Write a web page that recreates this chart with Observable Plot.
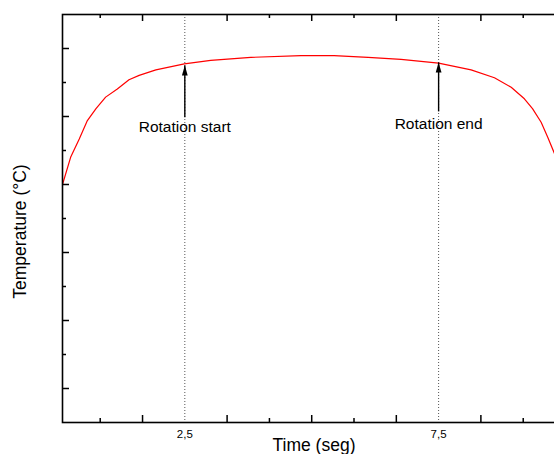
<!DOCTYPE html>
<html>
<head>
<meta charset="utf-8">
<script src="https://cdn.jsdelivr.net/npm/d3@7"></script>
<script src="https://cdn.jsdelivr.net/npm/@observablehq/plot@0.6"></script>
<style>
  html, body { margin: 0; padding: 0; background: white; }
  #wrap { width: 554px; height: 454px; overflow: hidden; }
</style>
</head>
<body>
<div id="wrap"></div>
<script>
// Temperature curve (arbitrary units; y axis has no labels)
const time = [0.09, 0.25, 0.42, 0.58, 0.75, 0.94, 1.17, 1.40, 1.60, 1.93, 2.49, 3.01, 3.80, 4.79, 5.44, 6.11, 6.76, 7.50, 8.14, 8.60, 8.93, 9.19, 9.35, 9.52, 9.65, 9.78, 9.90];
const temperature = [7.00, 7.80, 8.34, 8.88, 9.23, 9.57, 9.81, 10.08, 10.21, 10.37, 10.55, 10.65, 10.74, 10.79, 10.79, 10.74, 10.68, 10.57, 10.37, 10.14, 9.86, 9.52, 9.23, 8.83, 8.39, 7.92, 7.45];

// Ticks
const xMajorTicks = [1.667, 3.333, 5, 6.667, 8.333];
const xMinorTicks = [0.833, 4.167, 5.833, 9.167];
const xLabelTicks = [2.5, 7.5];
const yMajorTicks = [1, 3, 5, 7, 9, 11];
const yMinorTicks = [2, 4, 6, 8, 10];

// Annotations
const markerTimes = [2.5, 7.5];
const annotationLabels = ["Rotation start", "Rotation end"];
const annotationX = [2.5, 7.5];
const annotationY = [8.68, 8.79];
const arrowX = [2.5, 7.5];
const arrowFrom = [8.98, 9.15];
const arrowTo = [10.5, 10.59];

const curve = time.map((t, i) => ({t, v: temperature[i]}));
const notes = annotationLabels.map((label, i) => ({label, x: annotationX[i], y: annotationY[i]}));
const arrows = arrowX.map((x, i) => ({x, y1: arrowFrom[i], y2: arrowTo[i]}));

const arrowHead = {
  draw(ctx) {
    ctx.moveTo(0, 0);
    ctx.lineTo(2.9, 10);
    ctx.lineTo(-2.9, 10);
    ctx.closePath();
  }
};

const font = "'Liberation Sans', Arial, Helvetica, sans-serif";
const frameH = 454 - 14 - 32;

const chart = Plot.plot({
  width: 565,
  height: 454,
  marginLeft: 62,
  marginRight: 0,
  marginTop: 14,
  marginBottom: 32,
  style: {fontFamily: font, background: "white", maxWidth: "none", color: "black"},
  x: {domain: [0.09, 10]},
  y: {domain: [0, 12]},
  marks: [
    Plot.ruleX(markerTimes, {stroke: "#555", strokeWidth: 1, strokeDasharray: "1,2"}),
    Plot.line(curve, {x: "t", y: "v", stroke: "#ff0000", strokeWidth: 1.2, clip: "frame"}),
    Plot.link(arrows, {x1: "x", x2: "x", y1: "y1", y2: "y2", stroke: "black", strokeWidth: 1.4}),
    Plot.dot(arrows, {x: "x", y: "y2", symbol: arrowHead, fill: "black", stroke: "none"}),
    Plot.text(notes, {x: "x", y: "y", text: "label", fontSize: 15.5, fill: "black", textAnchor: "middle", lineAnchor: "middle"}),
    // ticks pointing inward
    Plot.tickX(xMajorTicks, {x: d => d, insetTop: frameH - 7, stroke: "black", strokeWidth: 1.5}),
    Plot.tickX(xMinorTicks, {x: d => d, insetTop: frameH - 4, stroke: "black", strokeWidth: 1.5}),
    Plot.tickX(xMajorTicks, {x: d => d, insetBottom: frameH - 7, stroke: "black", strokeWidth: 1.5}),
    Plot.tickX(xMinorTicks, {x: d => d, insetBottom: frameH - 4, stroke: "black", strokeWidth: 1.5}),
    Plot.axisX(xLabelTicks, {anchor: "bottom", tickSize: 0, tickPadding: 7, fontSize: 11.5, tickFormat: d => String(d).replace(".", ","), label: null}),
    Plot.axisY(yMajorTicks, {anchor: "left", tickSize: 7, dx: 7, strokeWidth: 1.5, tickFormat: () => "", label: null}),
    Plot.axisY(yMinorTicks, {anchor: "left", tickSize: 4, dx: 4, strokeWidth: 1.5, tickFormat: () => "", label: null}),
    Plot.frame({stroke: "black", strokeWidth: 1.6}),
    Plot.text(["Time (seg)"], {frameAnchor: "bottom", dy: 23, fontSize: 17.5, fill: "black", textAnchor: "middle", lineAnchor: "middle"}),
    Plot.text(["Temperature (°C)"], {frameAnchor: "left", dx: -42, dy: 13, rotate: -90, fontSize: 17.5, fill: "black", textAnchor: "middle", lineAnchor: "middle"})
  ]
});

document.getElementById("wrap").appendChild(chart);
</script>
</body>
</html>
